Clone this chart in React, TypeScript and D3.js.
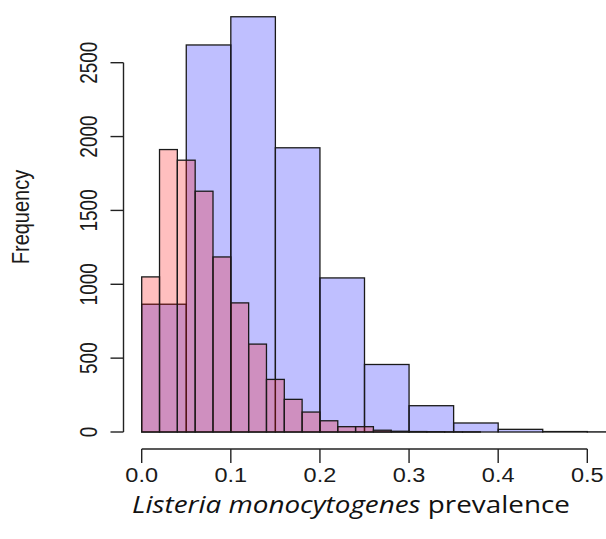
import React from 'react'
import * as d3 from 'd3'

// bins of width 0.05 (blue) and 0.02 (red)
const blueBreaks = [0, 0.05, 0.1, 0.15, 0.2, 0.25, 0.3, 0.35, 0.4, 0.45, 0.5, 0.55]
const blueCounts = [865, 2620, 2811, 1924, 1043, 457, 178, 61, 18, 3, 1, 0]

const redBreaks = [0, 0.02, 0.04, 0.06, 0.08, 0.1, 0.12, 0.14, 0.16, 0.18, 0.2, 0.22, 0.24, 0.26, 0.28, 0.3, 0.32, 0.34, 0.36]
const redCounts = [1050, 1912, 1840, 1630, 1185, 874, 595, 356, 221, 135, 76, 36, 36, 12, 5, 3, 2, 1, 1]

const xTicks = [0, 0.1, 0.2, 0.3, 0.4, 0.5]
const yTicks = [0, 500, 1000, 1500, 2000, 2500]

const W = 606
const H = 539

const App = () => {
  const x = d3.scaleLinear().domain([0, 0.5]).range([141.7, 587.3])
  const y = d3.scaleLinear().domain([0, 2500]).range([432, 62.7])
  const xAxisY = 449
  const yAxisX = 123.5

  const bars = (breaks: number[], counts: number[], w: number, fill: string) =>
    breaks.map((b, i) => (
      <rect
        key={i}
        x={x(b)}
        y={y(counts[i])}
        width={x(b + w) - x(b)}
        height={y(0) - y(counts[i])}
        fill={fill}
        stroke="#1a1a1a"
        strokeWidth={1.3}
      />
    ))

  return (
    <svg width={W} height={H} style={{ position: 'absolute', left: 0, top: 0, background: '#fff' }}>
      <g>{bars(blueBreaks, blueCounts, 0.05, 'rgba(0,0,255,0.25)')}</g>
      <g>{bars(redBreaks, redCounts, 0.02, 'rgba(255,0,0,0.25)')}</g>

      {/* y axis */}
      <g stroke="#222" strokeWidth={1.4}>
        <line x1={yAxisX} x2={yAxisX} y1={y(yTicks[0])} y2={y(yTicks[yTicks.length - 1])} />
        {yTicks.map(t => (
          <line key={t} x1={yAxisX} x2={yAxisX - 13} y1={y(t)} y2={y(t)} />
        ))}
      </g>
      <g fontFamily="Liberation Sans, Arial, sans-serif" fontSize={19} fill="#1a1a1a">
        {yTicks.map(t => (
          <text key={t} transform={`translate(97,${y(t)}) rotate(-90) scale(1,1.3)`} textAnchor="middle">
            {t}
          </text>
        ))}
        <text transform={`translate(29,217) rotate(-90) scale(1,1.15)`} textAnchor="middle" fontSize={20}>
          Frequency
        </text>
      </g>

      {/* x axis */}
      <g stroke="#222" strokeWidth={1.4}>
        <line x1={x(xTicks[0])} x2={x(xTicks[xTicks.length - 1])} y1={xAxisY} y2={xAxisY} />
        {xTicks.map(t => (
          <line key={t} x1={x(t)} x2={x(t)} y1={xAxisY} y2={xAxisY + 14} />
        ))}
      </g>
      <g fontFamily="Liberation Sans, Arial, sans-serif" fontSize={21} fill="#1a1a1a">
        {xTicks.map(t => (
          <text key={t} transform={`translate(${x(t)},482) scale(1.12,1)`} textAnchor="middle">
            {d3.format('.1f')(t)}
          </text>
        ))}
      </g>
      <text
        transform="translate(351,513) scale(1.16,1)"
        textAnchor="middle"
        fontFamily="Open Sans, sans-serif"
        fontSize={24}
        fill="#111"
      >
        <tspan fontStyle="italic">Listeria monocytogenes</tspan> prevalence
      </text>
    </svg>
  )
}

export default App
